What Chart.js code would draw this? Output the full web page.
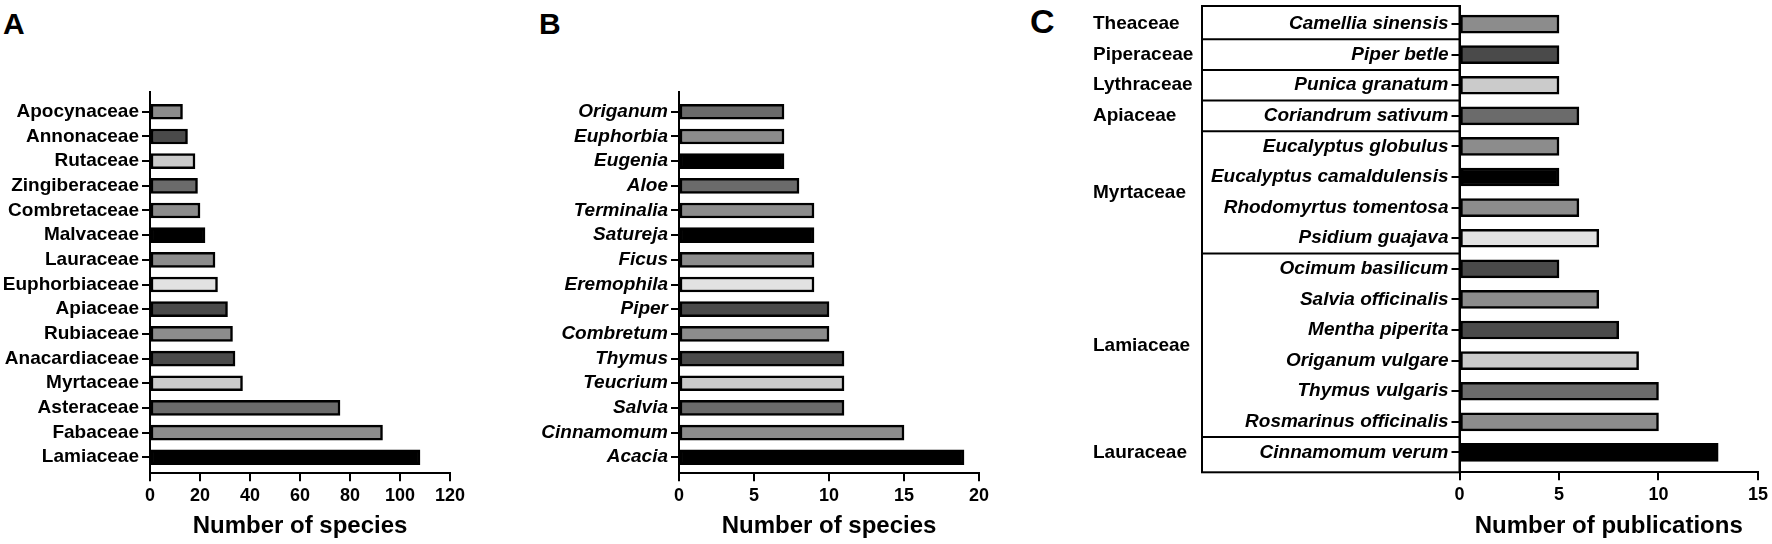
<!DOCTYPE html>
<html>
<head>
<meta charset="utf-8">
<script src="https://cdn.jsdelivr.net/npm/chart.js@4/dist/chart.umd.min.js"></script>
<style>
    body { margin: 0; background: #fff; }
    #wrap { position: relative; width: 1772px; height: 544px; background: #fff; }
    .panel { position: absolute; top: 0; height: 544px; }
    .letter { position: absolute; font-family: 'Liberation Sans', Arial, sans-serif; font-weight: bold; line-height: 1; color: #000; }
</style>
</head>
<body>
<div id="wrap">
    <div class="letter" style="left:3px;top:9px;font-size:30px;">A</div>
    <div class="letter" style="left:539px;top:9px;font-size:30px;">B</div>
    <div class="letter" style="left:1030px;top:4px;font-size:34px;">C</div>
    <div class="panel" style="left:0;width:470px;"><canvas id="chartA"></canvas></div>
    <div class="panel" style="left:470px;width:530px;"><canvas id="chartB"></canvas></div>
    <div class="panel" style="left:1000px;width:772px;"><canvas id="chartC"></canvas></div>
</div>
<script>
// Panel A: plant families, number of species (top to bottom)
const familiesA = ['Apocynaceae', 'Annonaceae', 'Rutaceae', 'Zingiberaceae', 'Combretaceae', 'Malvaceae', 'Lauraceae',
    'Euphorbiaceae', 'Apiaceae', 'Rubiaceae', 'Anacardiaceae', 'Myrtaceae', 'Asteraceae', 'Fabaceae', 'Lamiaceae'];
const speciesA = [13, 15, 18, 19, 20, 22, 26, 27, 31, 33, 34, 37, 76, 93, 108];

// Panel B: genera, number of species
const generaB = ['Origanum', 'Euphorbia', 'Eugenia', 'Aloe', 'Terminalia', 'Satureja', 'Ficus', 'Eremophila',
    'Piper', 'Combretum', 'Thymus', 'Teucrium', 'Salvia', 'Cinnamomum', 'Acacia'];
const speciesB = [7, 7, 7, 8, 9, 9, 9, 9, 10, 10, 11, 11, 11, 15, 19];

// Panel C: species, number of publications, grouped by family
const speciesC = ['Camellia sinensis', 'Piper betle', 'Punica granatum', 'Coriandrum sativum', 'Eucalyptus globulus',
    'Eucalyptus camaldulensis', 'Rhodomyrtus tomentosa', 'Psidium guajava', 'Ocimum basilicum', 'Salvia officinalis',
    'Mentha piperita', 'Origanum vulgare', 'Thymus vulgaris', 'Rosmarinus officinalis', 'Cinnamomum verum'];
const publicationsC = [5, 5, 5, 6, 5, 5, 6, 7, 5, 7, 8, 9, 10, 10, 13];
const familyNamesC = ['Theaceae', 'Piperaceae', 'Lythraceae', 'Apiaceae', 'Myrtaceae', 'Lamiaceae', 'Lauraceae'];
const familySizesC = [1, 1, 1, 1, 4, 6, 1];

// bar fills, top to bottom
const fillsA = ['#8c8c8c', '#4a4a4a', '#cbcbcb', '#6b6b6b', '#8c8c8c', '#000000', '#8c8c8c', '#e2e2e2',
    '#4a4a4a', '#8c8c8c', '#4a4a4a', '#cbcbcb', '#6b6b6b', '#8c8c8c', '#000000'];
const fillsB = ['#6b6b6b', '#8c8c8c', '#000000', '#6b6b6b', '#8c8c8c', '#000000', '#8c8c8c', '#e2e2e2',
    '#4a4a4a', '#8c8c8c', '#4a4a4a', '#cbcbcb', '#6b6b6b', '#8c8c8c', '#000000'];
const fillsC = fillsA;

Chart.defaults.font.family = "'Liberation Sans', Arial, sans-serif";
Chart.defaults.color = '#000';

const buildChart = (id, labels, values, fills, cfg) => {
    const ctx = document.getElementById(id).getContext('2d');
    return new Chart(ctx, {
        type: 'bar',
        data: {
            datasets: [{
                data: values.map((v, i) => ({ x: v, y: i })),
                backgroundColor: fills,
                borderColor: '#000',
                borderWidth: 2.5,
                borderSkipped: false,
                barThickness: cfg.barThickness,
            }],
        },
        plugins: cfg.plugins || [],
        options: {
            indexAxis: 'y',
            responsive: true,
            maintainAspectRatio: false,
            animation: false,
            layout: {
                padding: { top: cfg.top, right: cfg.right, bottom: 0, left: 0 },
            },
            plugins: {
                legend: { display: false },
                tooltip: { enabled: false },
            },
            scales: {
                x: {
                    type: 'linear',
                    min: 0,
                    max: cfg.xMax,
                    afterFit: (scale) => { scale.height = cfg.xHeight; },
                    ticks: {
                        stepSize: cfg.xStep,
                        font: { size: 18, weight: 'bold' },
                        padding: 4,
                        maxRotation: 0,
                    },
                    grid: { drawOnChartArea: false, tickLength: 8, color: '#000', lineWidth: 2 },
                    border: { color: '#000', width: 2 },
                    title: {
                        display: true,
                        text: cfg.title,
                        font: { size: 24, weight: 'bold' },
                        padding: { top: 0, bottom: 3 },
                    },
                },
                y: {
                    type: 'linear',
                    reverse: true,
                    offset: false,
                    bounds: 'data',
                    min: cfg.yMin,
                    max: cfg.yMax,
                    // one tick per category row
                    afterBuildTicks: (scale) => { scale.ticks = labels.map((_, i) => ({ value: i })); },
                    afterFit: (scale) => {
                        scale.width = cfg.yWidth;
                        scale.paddingTop = 0;
                        scale.paddingBottom = 0;
                    },
                    ticks: {
                        autoSkip: false,
                        padding: 3,
                        font: { size: 19, weight: 'bold', style: cfg.italic ? 'italic' : 'normal' },
                        callback: (v) => labels[v],
                    },
                    grid: { offset: false, drawOnChartArea: false, tickLength: 8, color: '#000', lineWidth: 2 },
                    border: { color: '#000', width: 2 },
                },
            },
        },
    });
};

// Draws the family boxes and family names to the left of the species labels in panel C
const familyBoxPlugin = {
    id: 'familyBox',
    afterDraw(chart) {
        const { ctx, chartArea } = chart;
        const yScale = chart.scales.y;
        const boxLeft = 202;
        ctx.save();
        ctx.strokeStyle = '#000';
        ctx.lineWidth = 2;
        ctx.strokeRect(boxLeft, chartArea.top, chartArea.left - boxLeft, chartArea.bottom - chartArea.top);
        ctx.font = "bold 19px 'Liberation Sans', Arial, sans-serif";
        ctx.fillStyle = '#000';
        ctx.textAlign = 'left';
        ctx.textBaseline = 'middle';
        let start = 0;
        familyNamesC.forEach((name, i) => {
            const end = start + familySizesC[i];
            if (end < speciesC.length) {
                const y = yScale.getPixelForValue(end - 0.5);
                ctx.beginPath();
                ctx.moveTo(boxLeft, y);
                ctx.lineTo(chartArea.left, y);
                ctx.stroke();
            }
            ctx.fillText(name, 93, yScale.getPixelForValue((start + end - 1) / 2));
            start = end;
        });
        ctx.restore();
    },
};

buildChart('chartA', familiesA, speciesA, fillsA, {
    title: 'Number of species', xMax: 120, xStep: 20, yWidth: 150, right: 20,
    top: 92.3, xHeight: 70.7, yMin: -0.79, yMax: 14.65, barThickness: 15, italic: false,
});

buildChart('chartB', generaB, speciesB, fillsB, {
    title: 'Number of species', xMax: 20, xStep: 5, yWidth: 209, right: 21,
    top: 92.3, xHeight: 70.7, yMin: -0.79, yMax: 14.65, barThickness: 15, italic: true,
});

buildChart('chartC', speciesC, publicationsC, fillsC, {
    title: 'Number of publications', xMax: 15, xStep: 5, yWidth: 459.5, right: 13,
    top: 6, xHeight: 71.7, yMin: -0.59, yMax: 14.65, barThickness: 18, italic: true,
    plugins: [familyBoxPlugin],
});
</script>
</body>
</html>
